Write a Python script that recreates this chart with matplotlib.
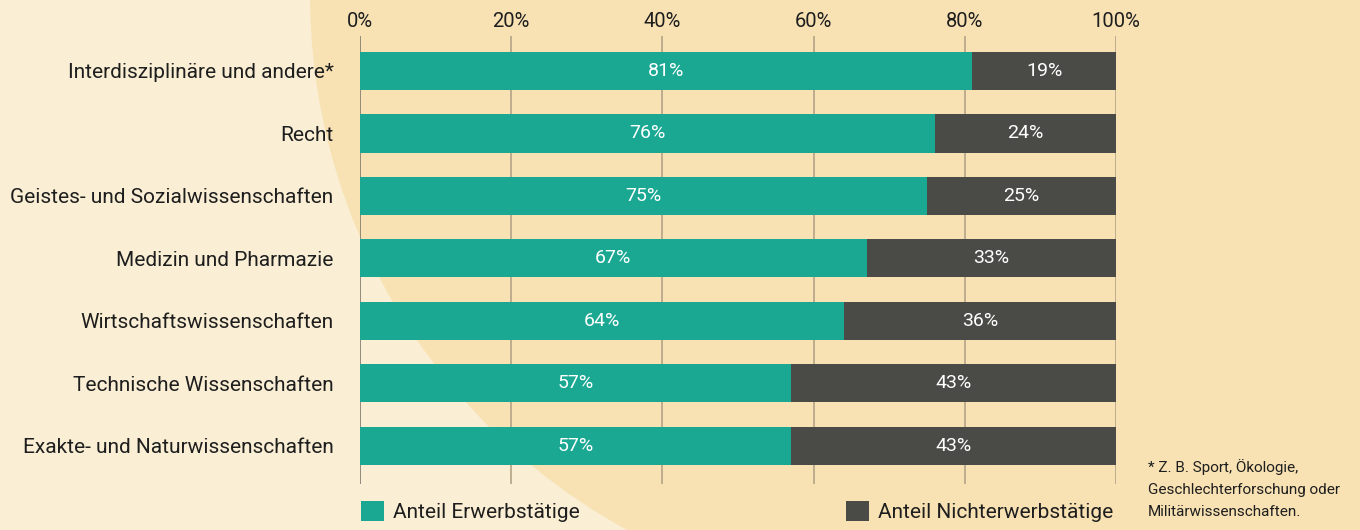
import matplotlib.pyplot as plt
from matplotlib.patches import Ellipse, Rectangle, Patch

# data
categories = [
    "Interdisziplinäre und andere*",
    "Recht",
    "Geistes- und Sozialwissenschaften",
    "Medizin und Pharmazie",
    "Wirtschaftswissenschaften",
    "Technische Wissenschaften",
    "Exakte- und Naturwissenschaften",
]
employed = [81, 76, 75, 67, 64, 57, 57]
not_employed = [19, 24, 25, 33, 36, 43, 43]
series_names = ["Anteil Erwerbstätige", "Anteil Nichterwerbstätige"]
tick_values = [0, 20, 40, 60, 80, 100]
footnote = "* Z. B. Sport, Ökologie,\nGeschlechterforschung oder\nMilitärwissenschaften."

teal = "#1aa893"
darkgrey = "#4a4b46"
bg_light = "#faefd4"
bg_circle = "#f8e2b4"
text_col = "#1e1e1e"

plt.rcParams["font.family"] = ["Roboto", "DejaVu Sans"]

W, H = 1360, 530
fig = plt.figure(figsize=(W / 100, H / 100), dpi=100, facecolor=bg_light)

# background axes in pixel units for the big beige circle
bg = fig.add_axes([0, 0, 1, 1], zorder=-1)
bg.set_xlim(0, W)
bg.set_ylim(H, 0)
bg.axis("off")
cx, cy, r = 920, -5, 610
bg.add_patch(Ellipse((cx, cy), 2 * r, 2 * r, facecolor=bg_circle, edgecolor="none"))
bg.add_patch(Rectangle((cx, 0), W - cx, H, facecolor=bg_circle, edgecolor="none"))

ax = fig.add_axes([360 / W, 1 - 484 / H, (1116 - 360) / W, (484 - 36) / H])
ax.set_facecolor("none")

y = list(range(len(categories)))
b1 = ax.barh(y, employed, height=0.61, color=teal, zorder=3)
b2 = ax.barh(y, not_employed, left=employed, height=0.61, color=darkgrey, zorder=3)
ax.bar_label(b1, labels=[f"{v}%" for v in employed], label_type="center",
             color="white", fontsize=14, zorder=4)
ax.bar_label(b2, labels=[f"{v}%" for v in not_employed], label_type="center",
             color="white", fontsize=14, zorder=4)

# vertical gridlines
for t in tick_values:
    ax.axvline(t, color="#8a8275" if t == 0 else "#b8a98c", lw=1.3, zorder=1)

ax.set_xlim(0, 100)
ax.set_ylim(6.61, -0.56)
ax.xaxis.tick_top()
ax.set_xticks(tick_values)
ax.set_xticklabels([f"{t}%" for t in tick_values], fontsize=14.5, color=text_col)
ax.set_yticks(y)
ax.set_yticklabels(categories, fontsize=15, color=text_col)
ax.tick_params(axis="both", length=0)
ax.tick_params(axis="x", pad=3.5)
ax.tick_params(axis="y", pad=19)
for s in ax.spines.values():
    s.set_visible(False)

# legend, two separate entries like the original
h1 = Patch(facecolor=teal, edgecolor="none")
h2 = Patch(facecolor=darkgrey, edgecolor="none")
leg1 = fig.legend([h1], [series_names[0]], loc="lower left",
                  bbox_to_anchor=(342 / W, -0.02), frameon=False, fontsize=15,
                  handlelength=1.1, handleheight=1.1, handletextpad=0.45,
                  labelcolor=text_col)
leg2 = fig.legend([h2], [series_names[1]], loc="lower left",
                  bbox_to_anchor=(827 / W, -0.02), frameon=False, fontsize=15,
                  handlelength=1.1, handleheight=1.1, handletextpad=0.45,
                  labelcolor=text_col)

fig.text(1148 / W, 1 - 459 / H, footnote, fontsize=11, color=text_col,
         va="top", ha="left", linespacing=1.72)

fig.savefig("out.png", dpi=100, facecolor=bg_light)
